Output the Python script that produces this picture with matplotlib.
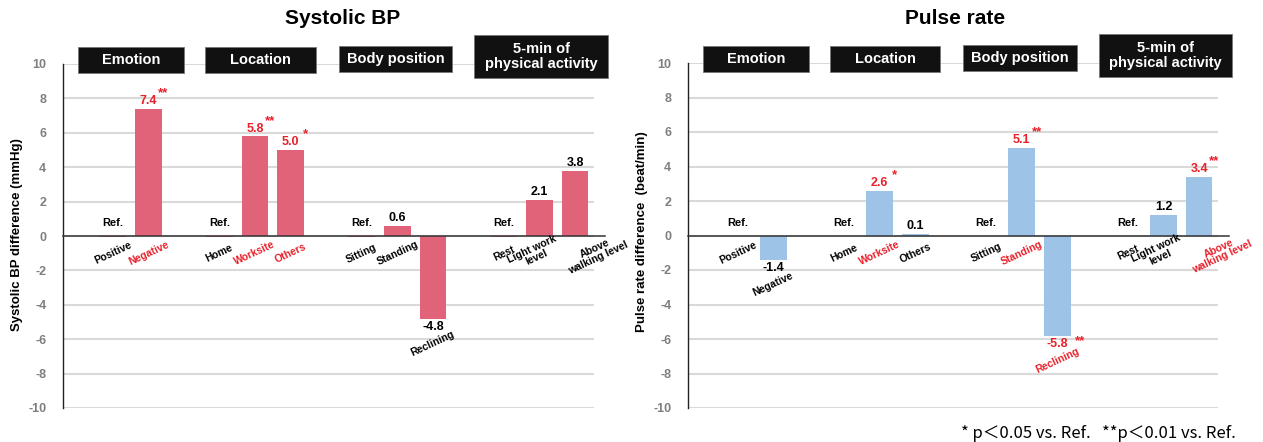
import matplotlib.pyplot as plt
from matplotlib.patches import Rectangle

plt.rcParams['font.family'] = ['Liberation Sans', 'DejaVu Sans']
plt.rcParams['axes.unicode_minus'] = False

# bar slots: groups of 2, 3, 3, 3 with one empty slot between groups
slots = [0, 1, 3, 4, 5, 7, 8, 9, 11, 12, 13]
categories = ['Positive', 'Negative', 'Home', 'Worksite', 'Others',
              'Sitting', 'Standing', 'Reclining',
              'Rest', 'Light work\nlevel', 'Above\nwalking level']
groups = ['Emotion', 'Location', 'Body position', '5-min of\nphysical activity']

# systolic BP difference (mmHg), Ref. bars are drawn as thin slivers
sbp_values = [-0.05, 7.4, -0.05, 5.8, 5.0, -0.05, 0.6, -4.8, -0.05, 2.1, 3.8]
sbp_text = ['Ref.', '7.4', 'Ref.', '5.8', '5.0', 'Ref.', '0.6', '-4.8', 'Ref.', '2.1', '3.8']
sbp_stars = ['', '**', '', '**', '*', '', '', '', '', '', '']
sbp_red_cats = ['Negative', 'Worksite', 'Others']

# pulse rate difference (beat/min)
pr_values = [-0.05, -1.4, -0.05, 2.6, 0.1, -0.05, 5.1, -5.8, -0.05, 1.2, 3.4]
pr_text = ['Ref.', '-1.4', 'Ref.', '2.6', '0.1', 'Ref.', '5.1', '-5.8', 'Ref.', '1.2', '3.4']
pr_stars = ['', '', '', '*', '', '', '**', '**', '', '', '**']
pr_red_cats = ['Worksite', 'Standing', 'Reclining', 'Above\nwalking level']

RED = '#E8202A'
W, H = 1263, 442

fig = plt.figure(figsize=(W / 100, H / 100), dpi=100)
ax1 = fig.add_axes([63 / W, 1 - 408 / H, 531 / W, 344 / H])
ax2 = fig.add_axes([688 / W, 1 - 408 / H, 530 / W, 345 / H])

# group header boxes (x span in slot units, y span in data units)
box_spans = [(-0.97, 2.0), (2.6, 5.7), (6.35, 9.55), (10.17, 13.92)]
box_heights = [(9.5, 11.0), (9.5, 11.0), (9.53, 11.05), (9.2, 11.7)]

# small nudges for the two-line category labels
label_dx = {'Light work\nlevel': -0.15, 'Above\nwalking level': 0.6}


def draw_panel(ax, values, texts, stars, red_cats, color, star_neg_dx):
    ax.bar(slots, values, width=0.75, color=color, zorder=2)
    ax.set_xlim(-1.4, 13.53)
    ax.set_ylim(-10, 10)
    ax.set_yticks(range(-10, 11, 2))
    ax.set_xticks([])
    ax.tick_params(axis='y', length=0, pad=12, labelcolor='#7f7f7f', labelsize=9)
    for lbl in ax.get_yticklabels():
        lbl.set_fontweight('bold')
    ax.yaxis.grid(True, color='#d9d9d9', lw=1.5, zorder=0)
    ax.set_axisbelow(True)
    for s in ['top', 'right', 'bottom']:
        ax.spines[s].set_visible(False)
    ax.spines['left'].set_color('#222222')
    ax.spines['left'].set_linewidth(1.0)
    ax.axhline(0, xmin=0, xmax=1.02, color='#333333', lw=1.1, clip_on=False, zorder=3)

    for x, v, t, st, cat in zip(slots, values, texts, stars, categories):
        txt_color = RED if st else 'black'
        if t == 'Ref.':
            ax.text(x, 0.75, t, ha='center', va='center', fontsize=8, weight='bold')
        elif v >= 0:
            ax.text(x, v + 0.45, t, ha='center', va='center', fontsize=9,
                    weight='bold', color=txt_color)
            if st:
                ax.text(x + 0.42, v + 0.9, st, ha='center', va='center',
                        fontsize=9.5, weight='bold', color=RED)
        else:
            ax.text(x, v - 0.5, t, ha='center', va='center', fontsize=9,
                    weight='bold', color=txt_color)
            if st:
                ax.text(x + star_neg_dx, v - 0.3, st, ha='center', va='center',
                        fontsize=9.5, weight='bold', color=RED)
        ly = -1.0 if v > -1 else v - 1.45
        ax.text(x + label_dx.get(cat, 0), ly, cat, ha='center', va='center',
                rotation=25, rotation_mode='anchor', fontsize=7.5, weight='bold',
                linespacing=0.95, color=RED if cat in red_cats else 'black')

    for name, (x0, x1), (y0, y1) in zip(groups, box_spans, box_heights):
        ax.add_patch(Rectangle((x0, y0), x1 - x0, y1 - y0, facecolor='#111111',
                               edgecolor='#777777', lw=0.6, clip_on=False, zorder=4))
        ax.text((x0 + x1) / 2, (y0 + y1) / 2, name, ha='center', va='center',
                color='white', fontsize=10.5, weight='bold', linespacing=1.1,
                clip_on=False, zorder=5)


draw_panel(ax1, sbp_values, sbp_text, sbp_stars, sbp_red_cats, '#E1637A', 0.45)
draw_panel(ax2, pr_values, pr_text, pr_stars, pr_red_cats, '#9DC3E6', 0.65)

fig.text(343 / W, 1 - 18 / H, 'Systolic BP', ha='center', va='center',
         fontsize=15, weight='bold')
fig.text(955 / W, 1 - 18 / H, 'Pulse rate', ha='center', va='center',
         fontsize=15, weight='bold')
fig.text(17 / W, 1 - 235 / H, 'Systolic BP difference (mmHg)', rotation=90,
         ha='center', va='center', fontsize=9.5, weight='bold')
fig.text(642 / W, 1 - 232 / H, 'Pulse rate difference  (beat/min)', rotation=90,
         ha='center', va='center', fontsize=9.5, weight='bold')
fig.text(1236 / W, 1 - 433 / H, '* p＜0.05 vs. Ref.   **p＜0.01 vs. Ref.',
         ha='right', va='center', fontsize=12,
         family=['Noto Sans CJK JP', 'DejaVu Sans'])

fig.savefig('out.png', dpi=100)
